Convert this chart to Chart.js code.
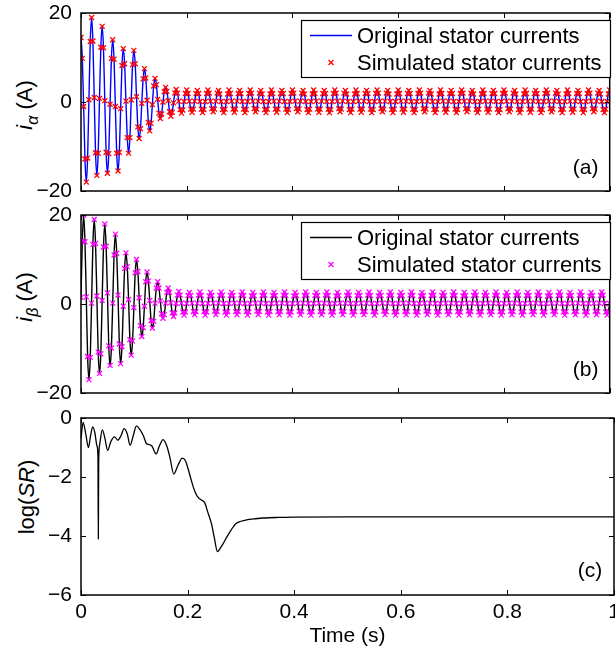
<!DOCTYPE html>
<html>
<head>
<meta charset="utf-8">
<script src="https://cdn.jsdelivr.net/npm/chart.js@4.4.0/dist/chart.umd.min.js"></script>
<style>
html, body { margin: 0; padding: 0; background: #fff; }
#wrap { position: relative; width: 615px; height: 653px; overflow: hidden; background: #fff; }
#wrap canvas { position: absolute; left: 0; top: 0; }
.ylab { position: absolute; font-family: "Liberation Sans", Arial, sans-serif; font-size: 22px; color: #000;
        white-space: nowrap; transform: translate(-50%, -50%) rotate(-90deg); }
.ylab sub { font-size: 16px; }
</style>
</head>
<body>
<div id="wrap">
  <div class="ylab" style="left:27px; top:105px;"><i>i</i><sub><i>α</i></sub> (A)</div>
  <div class="ylab" style="left:27px; top:297px;"><i>i</i><sub><i>β</i></sub> (A)</div>
  <div class="ylab" style="left:27px; top:497px;">log(<i>SR</i>)</div>
  <canvas id="chartA" width="615" height="653"></canvas>
  <canvas id="chartB" width="615" height="653"></canvas>
  <canvas id="chartC" width="615" height="653"></canvas>
</div>
<script>
// stator currents, one sample every 2.5 ms (8 per 50 Hz cycle), t = 0 .. 1 s
var dt = 0.0025;

var iAlpha = [
  14.5, 9.8, -1.0, -12.8, -18.0, -12.6, 0.5, 13.6,   19.0, 13.7, 1.0, -11.4, -16.5, -11.5, 0.8, 12.3,
  17.0, 12.2, 0.3, -11.3, -16.0, -11.6, -0.5, 9.8,   14.0, 9.6, -1.0, -11.5, -15.5, -11.3, -1.5, 8.2,
  12.0, 8.6, 0.2, -8.0, -11.5, -8.0, 0.5, 8.4,       11.6, 8.6, 1.2, -5.6, -8.2, -6.0, -0.3, 5.2,
  7.5, 5.4, 0.4, -4.6, -6.5, -4.8, -0.6, 3.6,        5.3, 3.9, 0.6, -2.5, -3.7, -2.7, 0.0, 2.3,
  3.3, 2.4, 0.3, -2.2, -3.2, -2.3, -0.2, 2.0,        2.8, 2.0, 0.2, -1.7, -2.5, -1.8, 0.1, 1.9,
  2.7, 1.9, 0.2, -1.6, -2.3, -1.6, 0.2, 1.9,         2.6, 1.9, 0.1, -1.6, -2.4, -1.7, 0.1, 1.9,
  2.7, 2.0, 0.2, -1.5, -2.2, -1.6, 0.2, 2.0,         2.6, 1.8, 0.1, -1.7, -2.4, -1.6, 0.1, 1.8,
  2.7, 1.9, 0.2, -1.6, -2.3, -1.6, 0.2, 1.9,         2.6, 1.9, 0.1, -1.6, -2.4, -1.7, 0.1, 1.9,
  2.7, 2.0, 0.2, -1.5, -2.2, -1.6, 0.2, 2.0,         2.6, 1.8, 0.1, -1.7, -2.4, -1.6, 0.1, 1.8,
  2.7, 1.9, 0.2, -1.6, -2.3, -1.6, 0.2, 1.9,         2.6, 1.9, 0.1, -1.6, -2.4, -1.7, 0.1, 1.9,
  2.7, 2.0, 0.2, -1.5, -2.2, -1.6, 0.2, 2.0,         2.6, 1.8, 0.1, -1.7, -2.4, -1.6, 0.1, 1.8,
  2.7, 1.9, 0.2, -1.6, -2.3, -1.6, 0.2, 1.9,         2.6, 1.9, 0.1, -1.6, -2.4, -1.7, 0.1, 1.9,
  2.7, 2.0, 0.2, -1.5, -2.2, -1.6, 0.2, 2.0,         2.6, 1.8, 0.1, -1.7, -2.4, -1.6, 0.1, 1.8,
  2.7, 1.9, 0.2, -1.6, -2.3, -1.6, 0.2, 1.9,         2.6, 1.9, 0.1, -1.6, -2.4, -1.7, 0.1, 1.9,
  2.7, 2.0, 0.2, -1.5, -2.2, -1.6, 0.2, 2.0,         2.6, 1.8, 0.1, -1.7, -2.4, -1.6, 0.1, 1.8,
  2.7, 1.9, 0.2, -1.6, -2.3, -1.6, 0.2, 1.9,         2.6, 1.9, 0.1, -1.6, -2.4, -1.7, 0.1, 1.9,
  2.7, 2.0, 0.2, -1.5, -2.2, -1.6, 0.2, 2.0,         2.6, 1.8, 0.1, -1.7, -2.4, -1.6, 0.1, 1.8,
  2.7, 1.9, 0.2, -1.6, -2.3, -1.6, 0.2, 1.9,         2.6, 1.9, 0.1, -1.6, -2.4, -1.7, 0.1, 1.9,
  2.7, 2.0, 0.2, -1.5, -2.2, -1.6, 0.2, 2.0,         2.6, 1.8, 0.1, -1.7, -2.4, -1.6, 0.1, 1.8,
  2.7, 1.9, 0.2, -1.6, -2.3, -1.6, 0.2, 1.9,         2.6, 1.9, 0.1, -1.6, -2.4, -1.7, 0.1, 1.9,
  2.7, 2.0, 0.2, -1.5, -2.2, -1.6, 0.2, 2.0,         2.6, 1.8, 0.1, -1.7, -2.4, -1.6, 0.1, 1.8,
  2.7, 1.9, 0.2, -1.6, -2.3, -1.6, 0.2, 1.9,         2.6, 1.9, 0.1, -1.6, -2.4, -1.7, 0.1, 1.9,
  2.7, 2.0, 0.2, -1.5, -2.2, -1.6, 0.2, 2.0,         2.6, 1.8, 0.1, -1.7, -2.4, -1.6, 0.1, 1.8,
  2.7, 1.9, 0.2, -1.6, -2.3, -1.6, 0.2, 1.9,         2.6, 1.9, 0.1, -1.6, -2.4, -1.7, 0.1, 1.9,
  2.7, 2.0, 0.2, -1.5, -2.2, -1.6, 0.2, 2.0,         2.6, 1.8, 0.1, -1.7, -2.4, -1.6, 0.1, 1.8,
  2.7
];

var iBeta = [
  1.5, 14.2, 20.0, 14.0, 1.6, -11.8, -17.0, -12.0,   0.2, 13.4, 19.0, 13.6, 1.8, -10.8, -15.6, -11.2,
  0.8, 12.8, 18.0, 13.0, 2.5, -9.4, -13.8, -9.9,     0.2, 11.0, 15.7, 11.4, 2.0, -9.0, -13.4, -9.6,
  -0.5, 8.0, 11.5, 8.4, 1.0, -8.0, -11.5, -8.3,      -0.8, 7.0, 10.0, 7.3, 1.4, -4.9, -7.3, -5.3,
  -0.5, 5.0, 7.2, 5.2, 0.8, -3.7, -5.4, -3.9,        0.2, 3.6, 5.0, 3.6, 0.7, -2.2, -3.2, -2.4,
  0.2, 2.6, 3.6, 2.6, 0.3, -2.0, -2.8, -2.0,         0.1, 2.0, 2.8, 2.0, 0.2, -1.8, -2.5, -1.8,
  0.1, 1.9, 2.6, 1.9, 0.2, -1.7, -2.4, -1.7,         0.2, 2.0, 2.7, 1.9, 0.1, -1.7, -2.5, -1.8,
  0.1, 1.8, 2.6, 1.9, 0.2, -1.6, -2.4, -1.7,         0.2, 1.9, 2.7, 2.0, 0.1, -1.8, -2.5, -1.7,
  0.1, 1.9, 2.6, 1.9, 0.2, -1.7, -2.4, -1.7,         0.2, 2.0, 2.7, 1.9, 0.1, -1.7, -2.5, -1.8,
  0.1, 1.8, 2.6, 1.9, 0.2, -1.6, -2.4, -1.7,         0.2, 1.9, 2.7, 2.0, 0.1, -1.8, -2.5, -1.7,
  0.1, 1.9, 2.6, 1.9, 0.2, -1.7, -2.4, -1.7,         0.2, 2.0, 2.7, 1.9, 0.1, -1.7, -2.5, -1.8,
  0.1, 1.8, 2.6, 1.9, 0.2, -1.6, -2.4, -1.7,         0.2, 1.9, 2.7, 2.0, 0.1, -1.8, -2.5, -1.7,
  0.1, 1.9, 2.6, 1.9, 0.2, -1.7, -2.4, -1.7,         0.2, 2.0, 2.7, 1.9, 0.1, -1.7, -2.5, -1.8,
  0.1, 1.8, 2.6, 1.9, 0.2, -1.6, -2.4, -1.7,         0.2, 1.9, 2.7, 2.0, 0.1, -1.8, -2.5, -1.7,
  0.1, 1.9, 2.6, 1.9, 0.2, -1.7, -2.4, -1.7,         0.2, 2.0, 2.7, 1.9, 0.1, -1.7, -2.5, -1.8,
  0.1, 1.8, 2.6, 1.9, 0.2, -1.6, -2.4, -1.7,         0.2, 1.9, 2.7, 2.0, 0.1, -1.8, -2.5, -1.7,
  0.1, 1.9, 2.6, 1.9, 0.2, -1.7, -2.4, -1.7,         0.2, 2.0, 2.7, 1.9, 0.1, -1.7, -2.5, -1.8,
  0.1, 1.8, 2.6, 1.9, 0.2, -1.6, -2.4, -1.7,         0.2, 1.9, 2.7, 2.0, 0.1, -1.8, -2.5, -1.7,
  0.1, 1.9, 2.6, 1.9, 0.2, -1.7, -2.4, -1.7,         0.2, 2.0, 2.7, 1.9, 0.1, -1.7, -2.5, -1.8,
  0.1, 1.8, 2.6, 1.9, 0.2, -1.6, -2.4, -1.7,         0.2, 1.9, 2.7, 2.0, 0.1, -1.8, -2.5, -1.7,
  0.1, 1.9, 2.6, 1.9, 0.2, -1.7, -2.4, -1.7,         0.2, 2.0, 2.7, 1.9, 0.1, -1.7, -2.5, -1.8,
  0.1, 1.8, 2.6, 1.9, 0.2, -1.6, -2.4, -1.7,         0.2, 1.9, 2.7, 2.0, 0.1, -1.8, -2.5, -1.7,
  0.1, 1.9, 2.6, 1.9, 0.2, -1.7, -2.4, -1.7,         0.2, 2.0, 2.7, 1.9, 0.1, -1.7, -2.5, -1.8,
  0.1, 1.8, 2.6, 1.9, 0.2, -1.6, -2.4, -1.7,         0.2, 1.9, 2.7, 2.0, 0.1, -1.8, -2.5, -1.7,
  0.1, 1.9, 2.6, 1.9, 0.2, -1.7, -2.4, -1.7,         0.2, 2.0, 2.7, 1.9, 0.1, -1.7, -2.5, -1.8,
  0.1, 1.8, 2.6, 1.9, 0.2, -1.6, -2.4, -1.7,         0.2, 1.9, 2.7, 2.0, 0.1, -1.8, -2.5, -1.7,
  0.1
];

// log(SR) curve, read point by point
var tSR = [0, 0.004, 0.009, 0.014, 0.018, 0.022, 0.026, 0.030, 0.0318, 0.0325, 0.0332, 0.035, 0.040, 0.045,
  0.050, 0.056, 0.063, 0.069, 0.075, 0.081, 0.087, 0.092, 0.098, 0.104, 0.110, 0.117, 0.123, 0.128, 0.133,
  0.141, 0.147, 0.154, 0.161, 0.167, 0.174, 0.182, 0.190, 0.196, 0.201, 0.206, 0.210, 0.215, 0.220, 0.226,
  0.232, 0.238, 0.245, 0.250, 0.256, 0.261, 0.267, 0.274, 0.280, 0.286, 0.292, 0.300, 0.311, 0.325, 0.342,
  0.370, 0.400, 0.500, 0.600, 0.700, 0.800, 0.900, 1.000];
var logSR = [-0.7, -0.15, -0.55, -1.0, -0.6, -0.3, -0.5, -0.95, -1.3, -4.1, -1.5, -0.9, -0.4, -0.7,
  -1.1, -0.8, -0.64, -0.75, -0.6, -0.36, -0.55, -0.93, -0.6, -0.27, -0.38, -0.6, -0.87, -0.9, -0.95,
  -1.22, -0.95, -0.73, -0.95, -1.35, -1.9, -1.6, -1.36, -1.45, -1.73, -2.05, -2.3, -2.55, -2.7, -2.78,
  -2.87, -3.2, -3.6, -4.05, -4.53, -4.42, -4.25, -4.02, -3.84, -3.68, -3.56, -3.5, -3.45, -3.42, -3.39,
  -3.37, -3.36, -3.35, -3.35, -3.35, -3.35, -3.35, -3.35];

var xTicks = [0, 0.2, 0.4, 0.6, 0.8, 1];
var currentTicks = [-20, 0, 20];
var srTicks = [-6, -4, -2, 0];
var legendLabels = ["Original stator currents", "Simulated stator currents"];

var FONT = '"Liberation Sans", Arial, sans-serif';

function samples(values) {
    return values.map(function (v, i) { return { x: i * dt, y: v }; });
}

function fmt(v) {
    return String(+Number(v).toFixed(1)).replace("-", "\u2212");
}

// frame, inward ticks, legend box and panel letter
var decor = {
    id: "decor",
    afterDatasetsDraw: function (chart, args, o) {
        var ctx = chart.ctx, a = chart.chartArea, xs = chart.scales.x, ys = chart.scales.y;
        ctx.save();
        ctx.strokeStyle = "#000";
        ctx.lineWidth = 1;
        ctx.beginPath();
        xTicks.forEach(function (v) {
            var px = Math.round(xs.getPixelForValue(v)) + 0.5;
            ctx.moveTo(px, a.top); ctx.lineTo(px, a.top + 5);
            ctx.moveTo(px, a.bottom); ctx.lineTo(px, a.bottom - 5);
        });
        o.yTicks.forEach(function (v) {
            var py = Math.round(ys.getPixelForValue(v)) + 0.5;
            ctx.moveTo(a.left, py); ctx.lineTo(a.left + 5, py);
            ctx.moveTo(a.right, py); ctx.lineTo(a.right - 5, py);
        });
        ctx.stroke();
        ctx.lineWidth = 1.5;
        ctx.strokeRect(a.left, a.top, a.right - a.left, a.bottom - a.top);

        if (o.hasLegend) {
            var top = a.top + 7.5, left = 301.5, right = 610.5, h = 57;
            var y1 = top + 15, y2 = top + 42;
            ctx.fillStyle = "#fff";
            ctx.fillRect(left, top, right - left, h);
            ctx.lineWidth = 1.2;
            ctx.strokeStyle = "#000";
            ctx.strokeRect(left, top, right - left, h);
            ctx.strokeStyle = o.lineColor;
            ctx.lineWidth = 1.3;
            ctx.beginPath(); ctx.moveTo(310, y1); ctx.lineTo(352, y1); ctx.stroke();
            ctx.strokeStyle = o.markColor;
            ctx.beginPath();
            ctx.moveTo(328.5, y2 - 2.5); ctx.lineTo(333.5, y2 + 2.5);
            ctx.moveTo(328.5, y2 + 2.5); ctx.lineTo(333.5, y2 - 2.5);
            ctx.stroke();
            ctx.fillStyle = "#000";
            ctx.font = "22px " + FONT;
            ctx.textAlign = "left";
            ctx.textBaseline = "middle";
            ctx.fillText(legendLabels[0], 357, y1 + 1);
            ctx.fillText(legendLabels[1], 357, y2 + 1);
        }

        ctx.fillStyle = "#000";
        ctx.font = "21px " + FONT;
        ctx.textAlign = "center";
        ctx.textBaseline = "middle";
        ctx.fillText(o.tag, a.right - 24, a.top + o.tagDy);
        ctx.restore();
    }
};

function makeChart(id, cfg) {
    return new Chart(document.getElementById(id), {
        type: "line",
        data: { datasets: cfg.datasets },
        options: {
            responsive: false,
            animation: false,
            events: [],
            layout: { padding: cfg.padding },
            plugins: { legend: { display: false }, tooltip: { enabled: false }, decor: cfg.decor },
            scales: {
                x: {
                    type: "linear", min: 0, max: 1,
                    afterBuildTicks: function (s) { s.ticks = xTicks.map(function (v) { return { value: v }; }); },
                    ticks: { display: cfg.showX, padding: 5, color: "#000", maxRotation: 0, autoSkip: false,
                             font: { family: FONT, size: 21 }, callback: fmt },
                    grid: { display: false, drawTicks: false },
                    border: { display: false },
                    title: { display: cfg.showX, text: "Time (s)", color: "#000",
                             font: { family: FONT, size: 21 }, padding: { top: 0, bottom: 4 } },
                    afterFit: function (s) { s.height = cfg.xHeight; s.paddingLeft = 0; s.paddingRight = 0; }
                },
                y: {
                    min: cfg.yMin, max: cfg.yMax,
                    afterBuildTicks: function (s) { s.ticks = cfg.yTicks.map(function (v) { return { value: v }; }); },
                    ticks: { padding: 9, color: "#000", font: { family: FONT, size: 21 }, callback: fmt },
                    grid: { display: false, drawTicks: false },
                    border: { display: false },
                    afterFit: function (s) { s.width = 81; s.paddingTop = 0; s.paddingBottom = 0; }
                }
            }
        },
        plugins: [decor]
    });
}

function currentSets(values, lineColor, markColor) {
    return [
        { label: legendLabels[1], data: samples(values), order: 0, showLine: false,
          pointStyle: "crossRot", pointRadius: 3.5, pointBorderWidth: 1.3,
          borderColor: markColor, backgroundColor: markColor },
        { label: legendLabels[0], data: samples(values), order: 1, borderColor: lineColor,
          borderWidth: 1.4, pointRadius: 0, cubicInterpolationMode: "monotone" }
    ];
}

makeChart("chartA", {
    datasets: currentSets(iAlpha, "#0000ff", "#ff0000"),
    padding: { left: 0, right: 1, top: 13, bottom: 462 },
    xHeight: 0, showX: false, yMin: -20, yMax: 20, yTicks: currentTicks,
    decor: { yTicks: currentTicks, tag: "(a)", tagDy: 155, hasLegend: true, lineColor: "#0000ff", markColor: "#ff0000" }
});

makeChart("chartB", {
    datasets: currentSets(iBeta, "#000000", "#ff00ff"),
    padding: { left: 0, right: 1, top: 215, bottom: 260 },
    xHeight: 0, showX: false, yMin: -20, yMax: 20, yTicks: currentTicks,
    decor: { yTicks: currentTicks, tag: "(b)", tagDy: 155, hasLegend: true, lineColor: "#000000", markColor: "#ff00ff" }
});

makeChart("chartC", {
    datasets: [{ data: tSR.map(function (t, i) { return { x: t, y: logSR[i] }; }),
                 borderColor: "#000", borderWidth: 1.3, pointRadius: 0, cubicInterpolationMode: "monotone" }],
    padding: { left: 0, right: 1, top: 418, bottom: 0 },
    xHeight: 58, showX: true, yMin: -6, yMax: 0, yTicks: srTicks,
    decor: { yTicks: srTicks, tag: "(c)", tagDy: 153, hasLegend: false }
});
</script>
</body>
</html>
